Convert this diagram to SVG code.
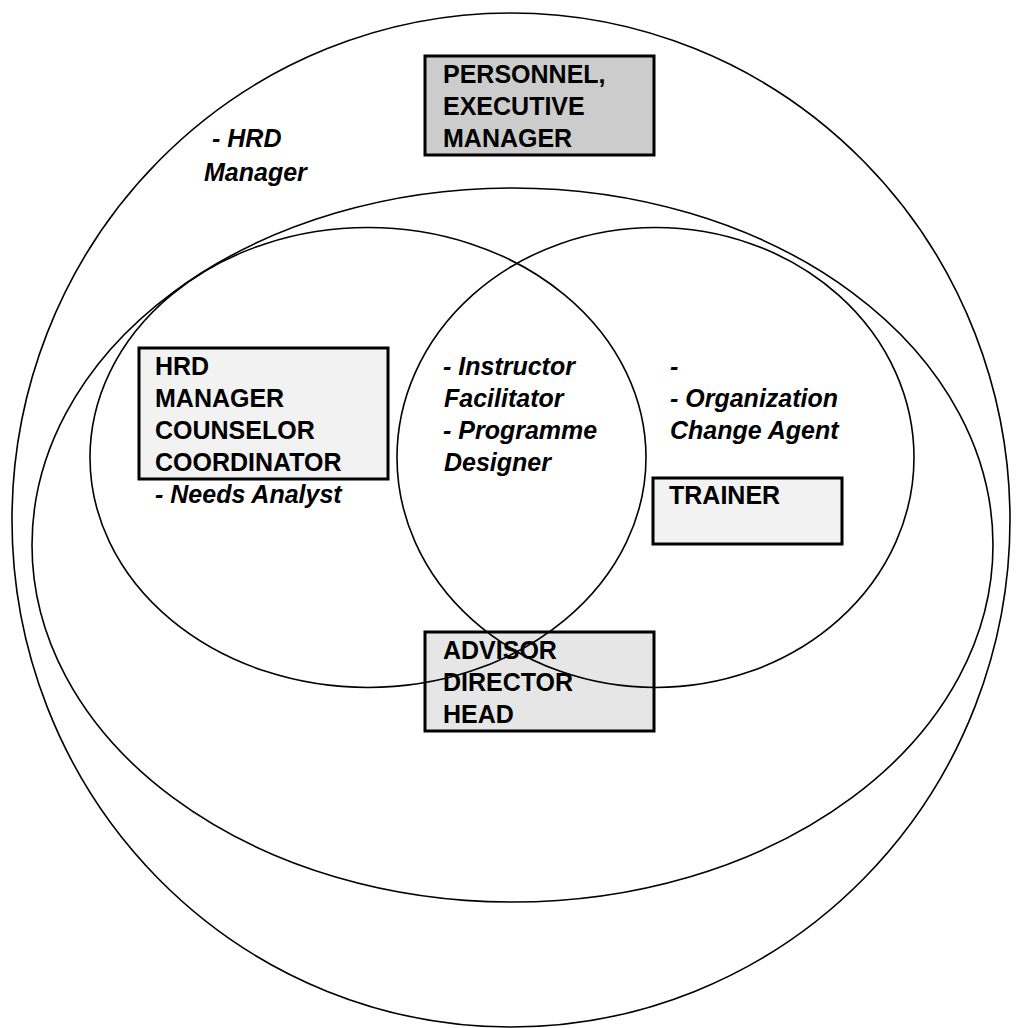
<svg xmlns="http://www.w3.org/2000/svg" width="1019" height="1028" viewBox="0 0 1019 1028">
<style>
.box{stroke:#000;stroke-width:3}
.ring{fill:none;stroke:#000;stroke-width:1.6}
text{font-family:"Liberation Sans",Arial,sans-serif;font-size:25px;font-weight:bold;fill:#000}
.it{font-style:italic}
</style>
<rect width="1019" height="1028" fill="#fff"/>
<g id="personnel">
<rect class="box" x="425" y="56" width="229" height="99" fill="#cccccc"/>
<text x="443" y="83">PERSONNEL,</text>
<text x="443" y="115">EXECUTIVE</text>
<text x="443" y="147">MANAGER</text>
</g>
<g id="hrd-box">
<rect class="box" x="139" y="348" width="249" height="131" fill="#f2f2f2"/>
<text x="155" y="375">HRD</text>
<text x="155" y="407">MANAGER</text>
<text x="155" y="439">COUNSELOR</text>
<text x="155" y="471">COORDINATOR</text>
</g>
<g id="trainer">
<rect class="box" x="653" y="478" width="189" height="66" fill="#f2f2f2"/>
<text x="669" y="504">TRAINER</text>
</g>
<g id="advisor">
<rect class="box" x="425" y="632" width="229" height="99" fill="#e6e6e6"/>
<text x="443" y="659">ADVISOR</text>
<text x="443" y="691">DIRECTOR</text>
<text x="443" y="723">HEAD</text>
</g>
<g id="connectors">
<ellipse id="outer" class="ring" cx="511" cy="520" rx="499" ry="507"/>
<ellipse id="middle" class="ring" cx="512.5" cy="545" rx="480.5" ry="357"/>
<ellipse id="left-circle" class="ring" cx="368" cy="457.5" rx="278" ry="230"/>
<ellipse id="right-circle" class="ring" cx="655.5" cy="457.5" rx="258.5" ry="230"/>
</g>
<g id="hrd-manager-label">
<text class="it" x="212" y="147">- HRD</text>
<text class="it" x="204" y="181">Manager</text>
</g>
<g id="center-label">
<text class="it" x="443" y="375">- Instructor</text>
<text class="it" x="444" y="407">Facilitator</text>
<text class="it" x="443" y="439">- Programme</text>
<text class="it" x="444" y="471">Designer</text>
</g>
<g id="right-label">
<text class="it" x="670" y="375">-</text>
<text class="it" x="670" y="407">- Organization</text>
<text class="it" x="670" y="439">Change Agent</text>
</g>
<g id="needs-label">
<text class="it" x="155" y="503">- Needs Analyst</text>
</g>
</svg>
